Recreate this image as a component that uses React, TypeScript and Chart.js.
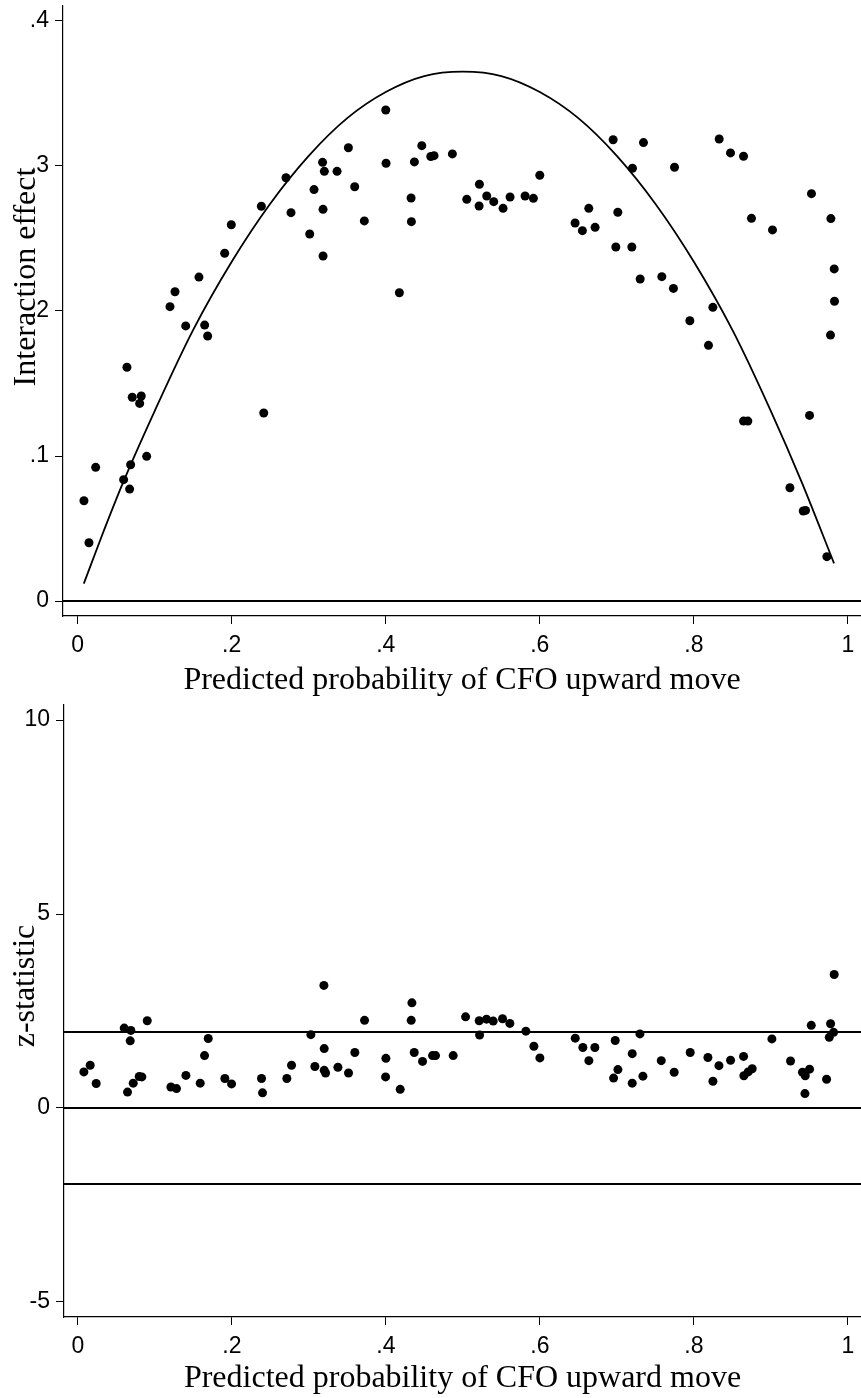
import React, { useEffect, useRef } from 'react';
import { Chart, registerables } from 'chart.js';

Chart.register(...registerables);

// ---------- Data ----------
const topX = [
  0.0082, 0.0147, 0.0234, 0.0597, 0.064, 0.0675, 0.0688, 0.0709, 0.0805, 0.0826,
  0.0896, 0.1199, 0.1264, 0.1403, 0.1575, 0.1649, 0.1688, 0.1909, 0.1995, 0.2385,
  0.2416, 0.2705, 0.277, 0.3013, 0.3069, 0.318, 0.3186, 0.3186, 0.3203, 0.3368,
  0.3515, 0.3597, 0.3722, 0.4, 0.4004, 0.4177, 0.4329, 0.4333, 0.4372, 0.4468,
  0.4585, 0.4627, 0.4865, 0.5052, 0.5212, 0.5216, 0.5311, 0.5402, 0.5523, 0.5614,
  0.5809, 0.5917, 0.6, 0.6458, 0.6553, 0.6636, 0.6718, 0.6952, 0.6987, 0.7013,
  0.7195, 0.7203, 0.7303, 0.7346, 0.7584, 0.7735, 0.7749, 0.7948, 0.819, 0.8247,
  0.8329, 0.8476, 0.8645, 0.8645, 0.8701, 0.8748, 0.9021, 0.9247, 0.942, 0.945,
  0.9502, 0.9527, 0.9727, 0.9774, 0.9779, 0.9822, 0.9826,
];
const topY = [
  0.0692, 0.0402, 0.0922, 0.0837, 0.1612, 0.0772, 0.094, 0.1405, 0.1363, 0.1414,
  0.0998, 0.203, 0.2133, 0.1897, 0.2234, 0.1903, 0.1828, 0.2398, 0.2595, 0.2722,
  0.1297, 0.2919, 0.2678, 0.2531, 0.2837, 0.3025, 0.2701, 0.2379, 0.2963, 0.2963,
  0.3126, 0.2857, 0.2621, 0.3386, 0.3019, 0.2126, 0.2779, 0.2616, 0.3028, 0.314,
  0.3065, 0.3071, 0.3083, 0.277, 0.2724, 0.2874, 0.2793, 0.2754, 0.2708, 0.2786,
  0.2793, 0.2777, 0.2936, 0.2607, 0.2554, 0.2708, 0.2577, 0.3181, 0.2441, 0.2681,
  0.2441, 0.2984, 0.2221, 0.3161, 0.2237, 0.2156, 0.2991, 0.1933, 0.1763, 0.2025,
  0.3186, 0.309, 0.3067, 0.1241, 0.1241, 0.2639, 0.2559, 0.0781, 0.0621, 0.0625,
  0.128, 0.2809, 0.0306, 0.1834, 0.2637, 0.229, 0.2067,
];

const curveX = [
  0.008, 0.03, 0.06, 0.1, 0.15, 0.2, 0.25, 0.3, 0.35, 0.4, 0.45,
  0.5, 0.55, 0.6, 0.65, 0.7, 0.75, 0.8, 0.85, 0.9, 0.94, 0.982,
];
const curveY = [
  0.012, 0.043, 0.083, 0.131, 0.187, 0.234, 0.274, 0.307, 0.333, 0.351, 0.362,
  0.365, 0.362, 0.351, 0.333, 0.307, 0.274, 0.234, 0.187, 0.131, 0.082, 0.026,
];

const botX = [
  0.0078, 0.016, 0.0238, 0.0602, 0.0645, 0.068, 0.0688, 0.0719, 0.0797, 0.0831,
  0.0901, 0.1208, 0.1281, 0.1403, 0.1589, 0.1645, 0.1693, 0.1909, 0.1996, 0.2385,
  0.2398, 0.2714, 0.2775, 0.3026, 0.3078, 0.3195, 0.3199, 0.3199, 0.3217, 0.3377,
  0.3515, 0.3597, 0.3723, 0.3996, 0.4, 0.4186, 0.4329, 0.4338, 0.4368, 0.4476,
  0.4606, 0.4645, 0.4874, 0.5035, 0.5212, 0.5217, 0.5307, 0.5394, 0.5515, 0.561,
  0.5818, 0.5922, 0.6, 0.6459, 0.6558, 0.6636, 0.6714, 0.6957, 0.6978, 0.7013,
  0.7199, 0.7199, 0.7299, 0.7338, 0.7576, 0.7744, 0.7952, 0.8182, 0.8247, 0.8325,
  0.8476, 0.8645, 0.8649, 0.8705, 0.8757, 0.9013, 0.9255, 0.941, 0.9442, 0.9446,
  0.9502, 0.9524, 0.9723, 0.9758, 0.9775, 0.9814, 0.9822,
];
const botZ = [
  0.93, 1.1, 0.63, 2.06, 0.41, 1.73, 2.0, 0.64, 0.81, 0.8,
  2.25, 0.54, 0.5, 0.84, 0.64, 1.35, 1.79, 0.76, 0.62, 0.76,
  0.39, 0.76, 1.1, 1.89, 1.07, 3.16, 1.53, 0.97, 0.9, 1.05,
  0.9, 1.43, 2.26, 0.8, 1.28, 0.48, 2.26, 2.71, 1.43, 1.2,
  1.35, 1.35, 1.35, 2.35, 2.25, 1.88, 2.29, 2.24, 2.3, 2.18,
  1.98, 1.59, 1.29, 1.8, 1.56, 1.22, 1.56, 0.77, 1.74, 0.99,
  1.4, 0.64, 1.91, 0.82, 1.22, 0.92, 1.43, 1.3, 0.69, 1.09,
  1.23, 1.33, 0.83, 0.93, 1.01, 1.78, 1.21, 0.92, 0.37, 0.83,
  1.0, 2.13, 0.74, 1.82, 2.17, 1.95, 3.44,
];

const xTickValues = [0, 0.2, 0.4, 0.6, 0.8, 1];
const topYTickValues = [0, 0.1, 0.2, 0.3, 0.4];
const botYTickValues = [-5, 0, 5, 10];
const topRefLines = [0];
const botRefLines = [-1.96, 0, 1.96];

const xTitle = 'Predicted probability of CFO upward move';
const topYTitle = 'Interaction effect';
const botYTitle = 'z-statistic';

const topXRange = [-0.019, 1.017];
const topYRange = [-0.0103, 0.4103];
const botXRange = [-0.018, 1.017];
const botYRange = [-5.39, 10.39];

// ---------- helpers ----------
const fmt = (v: number) => {
  if (v === 0) return '0';
  const s = String(+v.toFixed(2));
  return s.replace(/^(-?)0\./, '$1.');
};

const yTitlePlugin = {
  id: 'yTitle',
  afterDraw(chart: any, _args: any, opts: any) {
    const ctx = chart.ctx;
    ctx.save();
    ctx.translate(opts.x, opts.y);
    ctx.rotate(-Math.PI / 2);
    ctx.font = `${opts.size}px ${opts.family}`;
    ctx.fillStyle = opts.color;
    ctx.textAlign = 'center';
    ctx.textBaseline = 'alphabetic';
    ctx.fillText(opts.text, 0, 0);
    ctx.restore();
  },
};

function noPad(s: any) {
  s.paddingLeft = 0;
  s.paddingRight = 0;
  s.paddingTop = 0;
  s.paddingBottom = 0;
}

function buildConfig(p: {
  px: number[]; py: number[]; curve?: { x: number[]; y: number[] };
  refs: number[]; xRange: number[]; yRange: number[]; yTicks: number[];
  yTitle: string; yTitleX: number; yTitleY: number; padTop: number; xAxisH: number; yAxisW: number;
}) {
  const datasets: any[] = [];
  p.refs.forEach((v) => {
    datasets.push({
      type: 'scatter',
      data: [{ x: p.xRange[0], y: v }, { x: p.xRange[1], y: v }],
      showLine: true,
      borderColor: '#000',
      borderWidth: 2,
      pointRadius: 0,
    });
  });
  if (p.curve) {
    datasets.push({
      type: 'scatter',
      data: p.curve.x.map((x, i) => ({ x, y: p.curve!.y[i] })),
      showLine: true,
      borderColor: '#000',
      borderWidth: 1.8,
      pointRadius: 0,
      cubicInterpolationMode: 'monotone',
    });
  }
  datasets.push({
    type: 'scatter',
    data: p.px.map((x, i) => ({ x, y: p.py[i] })),
    pointRadius: 4.5,
    pointBackgroundColor: '#000',
    pointBorderWidth: 0,
    borderColor: '#000',
  });

  const tickFont = { family: "'Liberation Sans', Arial, sans-serif", size: 23 };
  return {
    type: 'scatter',
    data: { datasets },
    plugins: [yTitlePlugin],
    options: {
      responsive: true,
      maintainAspectRatio: false,
      animation: false,
      events: [],
      layout: { autoPadding: false, padding: { top: p.padTop, left: 0, right: 0, bottom: 0 } },
      plugins: {
        legend: { display: false },
        tooltip: { enabled: false },
        yTitle: {
          text: p.yTitle, x: p.yTitleX, y: p.yTitleY, size: 32,
          family: "'Liberation Serif', 'Times New Roman', serif", color: '#000',
        },
      },
      scales: {
        x: {
          type: 'linear',
          min: p.xRange[0],
          max: p.xRange[1],
          afterBuildTicks: (s: any) => { s.ticks = xTickValues.map((value) => ({ value })); },
          afterFit: (s: any) => { s.height = p.xAxisH; noPad(s); },
          grid: { display: true, drawOnChartArea: false, drawTicks: true, tickLength: 8, color: '#000', lineWidth: 1 },
          border: { display: true, color: '#000', width: 1.2 },
          ticks: { callback: (v: any) => fmt(Number(v)), font: tickFont, color: '#000', padding: 8, maxRotation: 0, autoSkip: false },
          title: {
            display: true, text: xTitle, color: '#000', padding: { top: 0, bottom: 0 },
            font: { family: "'Liberation Serif', 'Times New Roman', serif", size: 32 },
          },
        },
        y: {
          type: 'linear',
          min: p.yRange[0],
          max: p.yRange[1],
          afterBuildTicks: (s: any) => { s.ticks = p.yTicks.map((value) => ({ value })); },
          afterFit: (s: any) => { s.width = p.yAxisW; noPad(s); },
          grid: { display: true, drawOnChartArea: false, drawTicks: true, tickLength: 8, color: '#000', lineWidth: 1 },
          border: { display: true, color: '#000', width: 1.2 },
          ticks: { callback: (v: any) => fmt(Number(v)), font: tickFont, color: '#000', padding: 6, autoSkip: false },
        },
      },
    },
  };
}

function ChartBox(props: { config: any; height: number }) {
  const ref = useRef<HTMLCanvasElement | null>(null);
  useEffect(() => {
    if (!ref.current) return;
    const chart = new Chart(ref.current, props.config);
    return () => chart.destroy();
  }, []);
  return (
    <div style={{ position: 'relative', width: 861, height: props.height }}>
      <canvas ref={ref} />
    </div>
  );
}

export default function App() {
  const topCfg = buildConfig({
    px: topX, py: topY, curve: { x: curveX, y: curveY }, refs: topRefLines,
    xRange: topXRange, yRange: topYRange, yTicks: topYTickValues,
    yTitle: topYTitle, yTitleX: 35, yTitleY: 277, padTop: 6, xAxisH: 84, yAxisW: 63,
  });
  const botCfg = buildConfig({
    px: botX, py: botZ, refs: botRefLines,
    xRange: botXRange, yRange: botYRange, yTicks: botYTickValues,
    yTitle: botYTitle, yTitleX: 34, yTitleY: 286, padTop: 5, xAxisH: 81, yAxisW: 64,
  });
  return (
    <div style={{ position: 'absolute', left: 0, top: 0, width: 861, height: 1398, background: '#fff' }}>
      <ChartBox config={topCfg} height={700} />
      <ChartBox config={botCfg} height={698} />
    </div>
  );
}
